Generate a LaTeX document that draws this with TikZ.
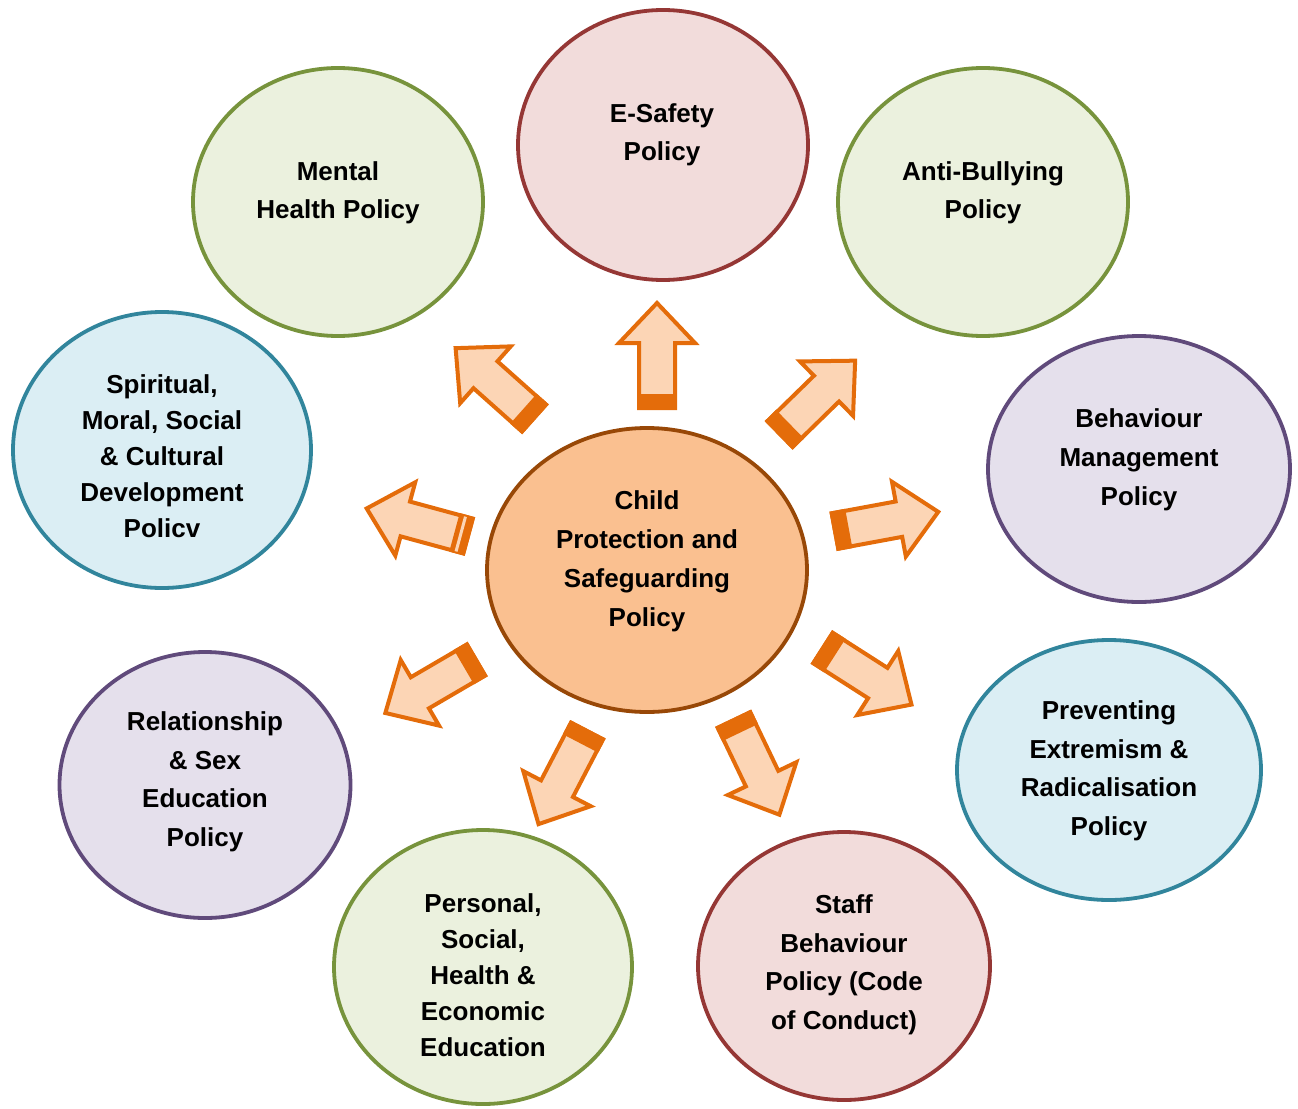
\documentclass[tikz,border=0pt]{standalone}
\usepackage{fontspec}
\setmainfont{Liberation Sans}
\usetikzlibrary{shapes.geometric}
\definecolor{pinkF}{HTML}{F2DCDB}
\definecolor{pinkD}{HTML}{953735}
\definecolor{greenF}{HTML}{EBF1DE}
\definecolor{greenD}{HTML}{77933C}
\definecolor{blueF}{HTML}{DBEEF4}
\definecolor{blueD}{HTML}{31859C}
\definecolor{purpF}{HTML}{E5E0EC}
\definecolor{purpD}{HTML}{604A7B}
\definecolor{centF}{HTML}{FAC090}
\definecolor{centD}{HTML}{984807}
\definecolor{arrF}{HTML}{FCD5B5}
\definecolor{arrD}{HTML}{E46C0A}
\tikzset{
  bubble/.style={ellipse, draw, line width=3.8pt, inner sep=0pt},
  pinkb/.style={bubble, fill=pinkF, draw=pinkD},
  greenb/.style={bubble, fill=greenF, draw=greenD},
  blueb/.style={bubble, fill=blueF, draw=blueD},
  purpb/.style={bubble, fill=purpF, draw=purpD},
  centb/.style={bubble, fill=centF, draw=centD},
  txt/.style={align=center, inner sep=0pt, font=\bfseries\fontsize{26}{38}\selectfont},
  blockarr/.style={fill=arrF, draw=arrD, line width=4pt, line join=miter},
  blockarrow/.pic={
    \path[blockarr] (0,-18) -- (65,-18) -- (65,-38) -- (105,0) -- (65,38) -- (65,18) -- (0,18) -- cycle;
    \fill[arrD] (-2,-20) rectangle (14,20);
  },
  stripedarrow/.pic={
    \path[blockarr] (0,-18) -- (65,-18) -- (65,-38) -- (105,0) -- (65,38) -- (65,18) -- (0,18) -- cycle;
    \fill[arrD] (-2,-20) rectangle (14,20);
    \fill[arrF] (6,-18) rectangle (9,18);
  },
}
\begin{document}
\begin{tikzpicture}[x=1pt,y=-1pt]
\useasboundingbox (0,0) rectangle (1298,1108);
% bubbles
\node[pinkb, minimum width=290pt, minimum height=270pt] (esafe) at (663,145) {};
\node[greenb, minimum width=290pt, minimum height=268pt] (mental) at (338,202) {};
\node[greenb, minimum width=290pt, minimum height=268pt] (anti) at (983,202) {};
\node[blueb, minimum width=298pt, minimum height=276pt] (smsc) at (162,450) {};
\node[purpb, minimum width=302pt, minimum height=266pt] (behav) at (1139,469) {};
\node[centb, minimum width=320pt, minimum height=284pt] (child) at (647,570) {};
\node[purpb, minimum width=291pt, minimum height=266pt] (rse) at (205,785) {};
\node[blueb, minimum width=304pt, minimum height=260pt] (prevent) at (1109,770) {};
\node[greenb, minimum width=298pt, minimum height=274pt] (pshe) at (483,967) {};
\node[pinkb, minimum width=292pt, minimum height=268pt] (staff) at (844,966) {};
% texts
\node[txt] (tesafe) at (662,135) {E-Safety\\Policy};
\node[txt] (tmental) at (338,193) {Mental\\Health Policy};
\node[txt] (tanti) at (983,193) {Anti-Bullying\\Policy};
\node[txt, font=\bfseries\fontsize{26}{36}\selectfont] (tsmsc) at (162,456) {Spiritual,\\Moral, Social\\\& Cultural\\Development\\Policv};
\node[txt, font=\bfseries\fontsize{26}{39}\selectfont] (tbehav) at (1139,460) {Behaviour\\Management\\Policy};
\node[txt, font=\bfseries\fontsize{26}{39}\selectfont] (tchild) at (647,561) {Child\\Protection and\\Safeguarding\\Policy};
\node[txt, font=\bfseries\fontsize{26}{38.5}\selectfont] (trse) at (205,782) {Relationship\\\& Sex\\Education\\Policy};
\node[txt, font=\bfseries\fontsize{26}{38.5}\selectfont] (tprevent) at (1109,771) {Preventing\\Extremism \&\\Radicalisation\\Policy};
\node[txt, font=\bfseries\fontsize{26}{36}\selectfont] (tpshe) at (483,975) {Personal,\\Social,\\Health \&\\Economic\\Education};
\node[txt, font=\bfseries\fontsize{26}{38.5}\selectfont] (tstaff) at (844,965) {Staff\\Behaviour\\Policy (Code\\of Conduct)};
% arrows
\pic[rotate=90] (a1) at (657,408) {blockarrow};
\pic[rotate=138.3] (a2) at (534,418) {blockarrow};
\pic[rotate=44.3] (a3) at (780,434) {blockarrow};
\pic[rotate=164.8] (a4) at (468,536) {stripedarrow};
\pic[rotate=10.5] (a5) at (835,531) {blockarrow};
\pic[rotate=-149.7] (a6) at (476,660) {blockarrow};
\pic[rotate=-32.6] (a7) at (823,648) {blockarrow};
\pic[rotate=-117.5] (a8) at (587,731) {blockarrow};
\pic[rotate=-64.4] (a9) at (734,720) {blockarrow};
\end{tikzpicture}
\end{document}
